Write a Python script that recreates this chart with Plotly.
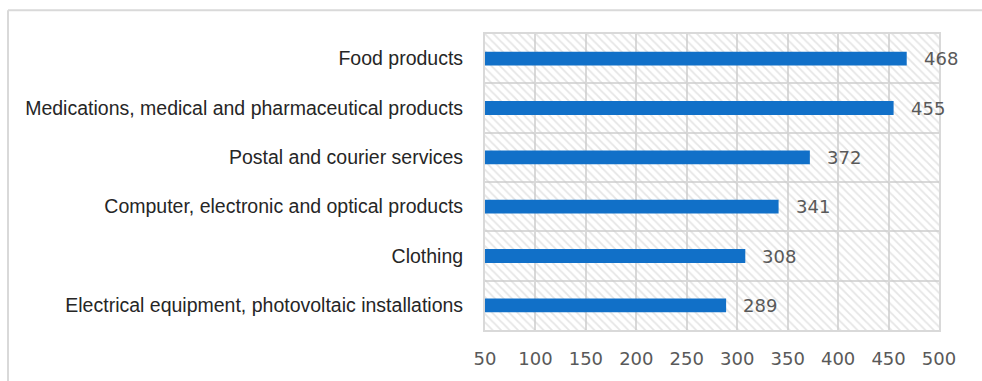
import plotly.graph_objects as go

# Categories listed top to bottom, with their values
categories = [
    "Food products",
    "Medications, medical and pharmaceutical products",
    "Postal and courier services",
    "Computer, electronic and optical products",
    "Clothing",
    "Electrical equipment, photovoltaic installations",
]
values = [468, 455, 372, 341, 308, 289]

axis_min = 50
axis_max = 500
tick_values = list(range(50, 501, 50))
tick_labels = [str(v) for v in tick_values]

grid_color = "#d9d9d9"
bar_color = "#1170c8"

fig = go.Figure()

# Hatched plot background, one full-height band per category
fig.add_trace(go.Bar(
    y=categories,
    x=[axis_max - axis_min] * len(categories),
    base=[axis_min] * len(categories),
    orientation="h",
    width=1.0,
    marker=dict(
        color="rgba(0,0,0,0)",
        line=dict(width=0),
        pattern=dict(shape="\\", fgcolor="#cccccc", bgcolor="rgba(0,0,0,0)",
                     size=6, solidity=0.3, fillmode="overlay"),
    ),
    hoverinfo="skip",
    showlegend=False,
))

# Value bars
fig.add_trace(go.Bar(
    y=categories,
    x=[v - axis_min for v in values],
    base=[axis_min] * len(values),
    orientation="h",
    width=0.28,
    marker=dict(color=bar_color, line=dict(width=0)),
    showlegend=False,
))

# Value labels to the right of each bar
for cat, val in zip(categories, values):
    fig.add_annotation(
        x=val, y=cat, xref="x", yref="y",
        text=str(val), showarrow=False,
        xanchor="left", yanchor="middle", xshift=15,
        font=dict(family="DejaVu Sans", size=18, color="#595959"),
    )

# Outer chart frame (left and top edges)
frame = dict(color=grid_color, width=2)
fig.add_shape(type="line", xref="paper", yref="paper",
              x0=-1.0507, x1=1.2, y0=1.0805, y1=1.0805, line=frame)
fig.add_shape(type="line", xref="paper", yref="paper",
              x0=-1.0507, x1=-1.0507, y0=1.0805, y1=-0.3, line=frame)

fig.update_layout(
    width=982,
    height=381,
    margin=dict(l=485, r=43, t=34, b=49),
    paper_bgcolor="white",
    plot_bgcolor="white",
    barmode="overlay",
    xaxis=dict(
        range=[axis_min, axis_max],
        tickmode="array",
        tickvals=tick_values,
        ticktext=tick_labels,
        showgrid=True,
        gridcolor=grid_color,
        gridwidth=2,
        showline=True,
        linecolor=grid_color,
        linewidth=2,
        mirror=True,
        zeroline=False,
        ticks="",
        ticklabelstandoff=11,
        tickfont=dict(family="DejaVu Sans", size=18, color="#595959"),
    ),
    yaxis=dict(
        categoryorder="array",
        categoryarray=categories,
        autorange="reversed",
        tickson="boundaries",
        showgrid=True,
        gridcolor=grid_color,
        gridwidth=2,
        showline=True,
        linecolor=grid_color,
        linewidth=2,
        mirror=True,
        ticks="",
        ticklabelstandoff=16,
        tickfont=dict(family="Liberation Sans", size=19.5, color="#262626"),
    ),
)

fig.write_html("out.html")
